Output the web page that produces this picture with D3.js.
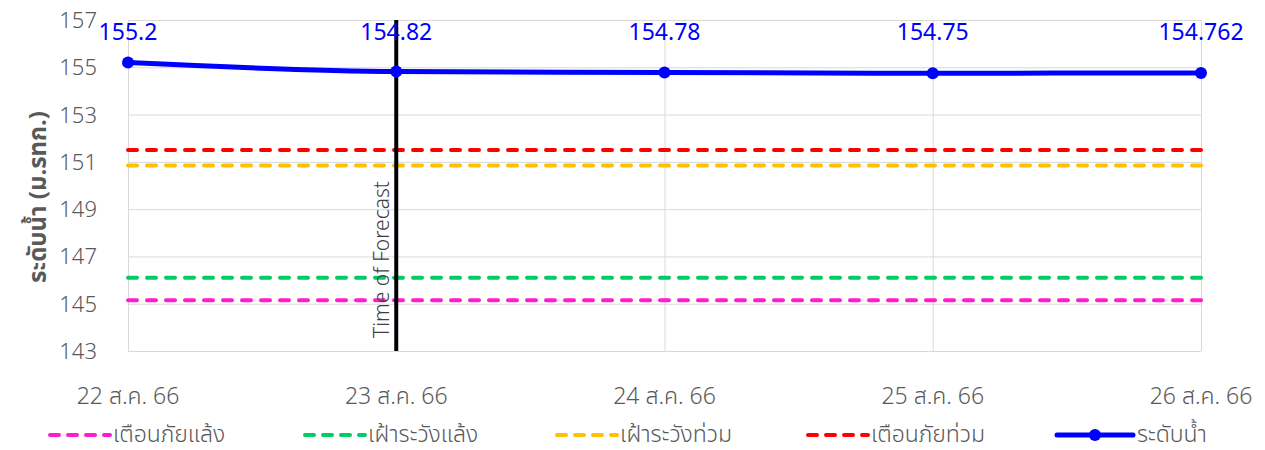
<!DOCTYPE html>
<html>
<head>
<meta charset="utf-8">
<script src="https://cdn.jsdelivr.net/npm/d3@7"></script>
<style>
  body { margin: 0; background: #fff; }
  svg { display: block; font-family: "Noto Sans", "Noto Sans Thai", "Open Sans", sans-serif; }
  .grid line { stroke: #d9d9d9; stroke-width: 1; }
  .grid path { display: none; }
  .tick-label { fill: #595959; font-size: 22px; font-weight: 300; }
</style>
</head>
<body>
<div id="chart"></div>
<script>
const dates = ['22 ส.ค. 66', '23 ส.ค. 66', '24 ส.ค. 66', '25 ส.ค. 66', '26 ส.ค. 66'];
const waterLevel = [155.2, 154.82, 154.78, 154.75, 154.762];
const levelLabels = ['155.2', '154.82', '154.78', '154.75', '154.762'];
const yTicks = [143, 145, 147, 149, 151, 153, 155, 157];
const thresholds = [
  { name: 'เตือนภัยแล้ง', value: 145.15, color: '#ff1ccc' },
  { name: 'เฝ้าระวังแล้ง', value: 146.1, color: '#00cc66' },
  { name: 'เฝ้าระวังท่วม', value: 150.85, color: '#ffc000' },
  { name: 'เตือนภัยท่วม', value: 151.5, color: '#ff0000' },
];
const forecastDate = '23 ส.ค. 66';

const width = 1265;
const height = 450;
const area = { left: 128, right: 1201, top: 20, bottom: 351 };

const svg = d3.select('#chart')
  .append('svg')
  .attr('width', width)
  .attr('height', height);

const xScale = d3.scalePoint().domain(dates).range([area.left, area.right]);
const yScale = d3.scaleLinear().domain([143, 157]).range([area.bottom, area.top]);

// Gridlines
svg.append('g')
  .attr('class', 'grid')
  .attr('transform', `translate(${area.left}, 0)`)
  .call(d3.axisLeft(yScale).tickValues(yTicks).tickFormat('').tickSize(-(area.right - area.left)));

svg.append('g')
  .attr('class', 'grid')
  .attr('transform', `translate(0, ${area.bottom})`)
  .call(d3.axisBottom(xScale).tickFormat('').tickSize(-(area.bottom - area.top)));

// Y tick labels
svg.append('g')
  .selectAll('text')
  .data(yTicks)
  .join('text')
  .attr('class', 'tick-label')
  .attr('x', 97)
  .attr('y', (d) => yScale(d) + 8)
  .attr('text-anchor', 'end')
  .text((d) => d);

// X tick labels
svg.append('g')
  .selectAll('text')
  .data(dates)
  .join('text')
  .attr('class', 'tick-label')
  .attr('x', (d) => xScale(d))
  .attr('y', 404)
  .attr('text-anchor', 'middle')
  .style('font-size', '23px')
  .text((d) => d);

// Y axis title
svg.append('text')
  .attr('transform', `translate(46, 197) rotate(-90)`)
  .attr('text-anchor', 'middle')
  .attr('fill', '#595959')
  .attr('font-size', 24)
  .attr('font-weight', 'bold')
  .text('ระดับน้ำ (ม.รทก.)');

// Threshold lines
svg.append('g')
  .selectAll('line')
  .data(thresholds)
  .join('line')
  .attr('x1', area.left)
  .attr('x2', area.right)
  .attr('y1', (d) => yScale(d.value))
  .attr('y2', (d) => yScale(d.value))
  .attr('stroke', (d) => d.color)
  .attr('stroke-width', 4)
  .attr('stroke-linecap', 'round')
  .attr('stroke-dasharray', '9,10');

// Time of forecast
const fx = xScale(forecastDate);
svg.append('line')
  .attr('x1', fx).attr('x2', fx)
  .attr('y1', area.top).attr('y2', area.bottom)
  .attr('stroke', '#000')
  .attr('stroke-width', 4);

svg.append('text')
  .attr('transform', `translate(${fx - 7}, 338) rotate(-90)`)
  .attr('fill', '#404040')
  .attr('font-size', 21)
  .attr('font-weight', 300)
  .text('Time of Forecast');

// Water level line
const line = d3.line()
  .x((d, i) => xScale(dates[i]))
  .y((d) => yScale(d))
  .curve(d3.curveMonotoneX);

svg.append('path')
  .datum(waterLevel)
  .attr('fill', 'none')
  .attr('stroke', '#0000ff')
  .attr('stroke-width', 5)
  .attr('d', line);

svg.append('g')
  .selectAll('circle')
  .data(waterLevel)
  .join('circle')
  .attr('cx', (d, i) => xScale(dates[i]))
  .attr('cy', (d) => yScale(d))
  .attr('r', 6)
  .attr('fill', '#0000ff');

svg.append('g')
  .selectAll('text')
  .data(waterLevel)
  .join('text')
  .attr('x', (d, i) => xScale(dates[i]))
  .attr('y', 40)
  .attr('text-anchor', 'middle')
  .attr('fill', '#0000ff')
  .attr('font-size', 23)
  .text((d, i) => levelLabels[i]);

// Legend
const legendItems = thresholds.map((d) => ({ name: d.name, color: d.color, dashed: true }))
  .concat([{ name: 'ระดับน้ำ', color: '#0000ff', dashed: false }]);
const legendX = [48, 303, 555, 806, 1055];

const legend = svg.append('g')
  .selectAll('g')
  .data(legendItems)
  .join('g')
  .attr('transform', (d, i) => `translate(${legendX[i]}, 435)`);

legend.append('line')
  .attr('x1', 2)
  .attr('x2', (d) => (d.dashed ? 62 : 78))
  .attr('stroke', (d) => d.color)
  .attr('stroke-width', (d) => (d.dashed ? 4 : 5))
  .attr('stroke-linecap', 'round')
  .attr('stroke-dasharray', (d) => (d.dashed ? '9,9' : null));

legend.filter((d) => !d.dashed)
  .append('circle')
  .attr('cx', 40)
  .attr('r', 6)
  .attr('fill', (d) => d.color);

legend.append('text')
  .attr('class', 'tick-label')
  .attr('x', (d) => (d.dashed ? 65 : 82))
  .attr('y', 7)
  .style('font-size', '23px')
  .text((d) => d.name);
</script>
</body>
</html>
